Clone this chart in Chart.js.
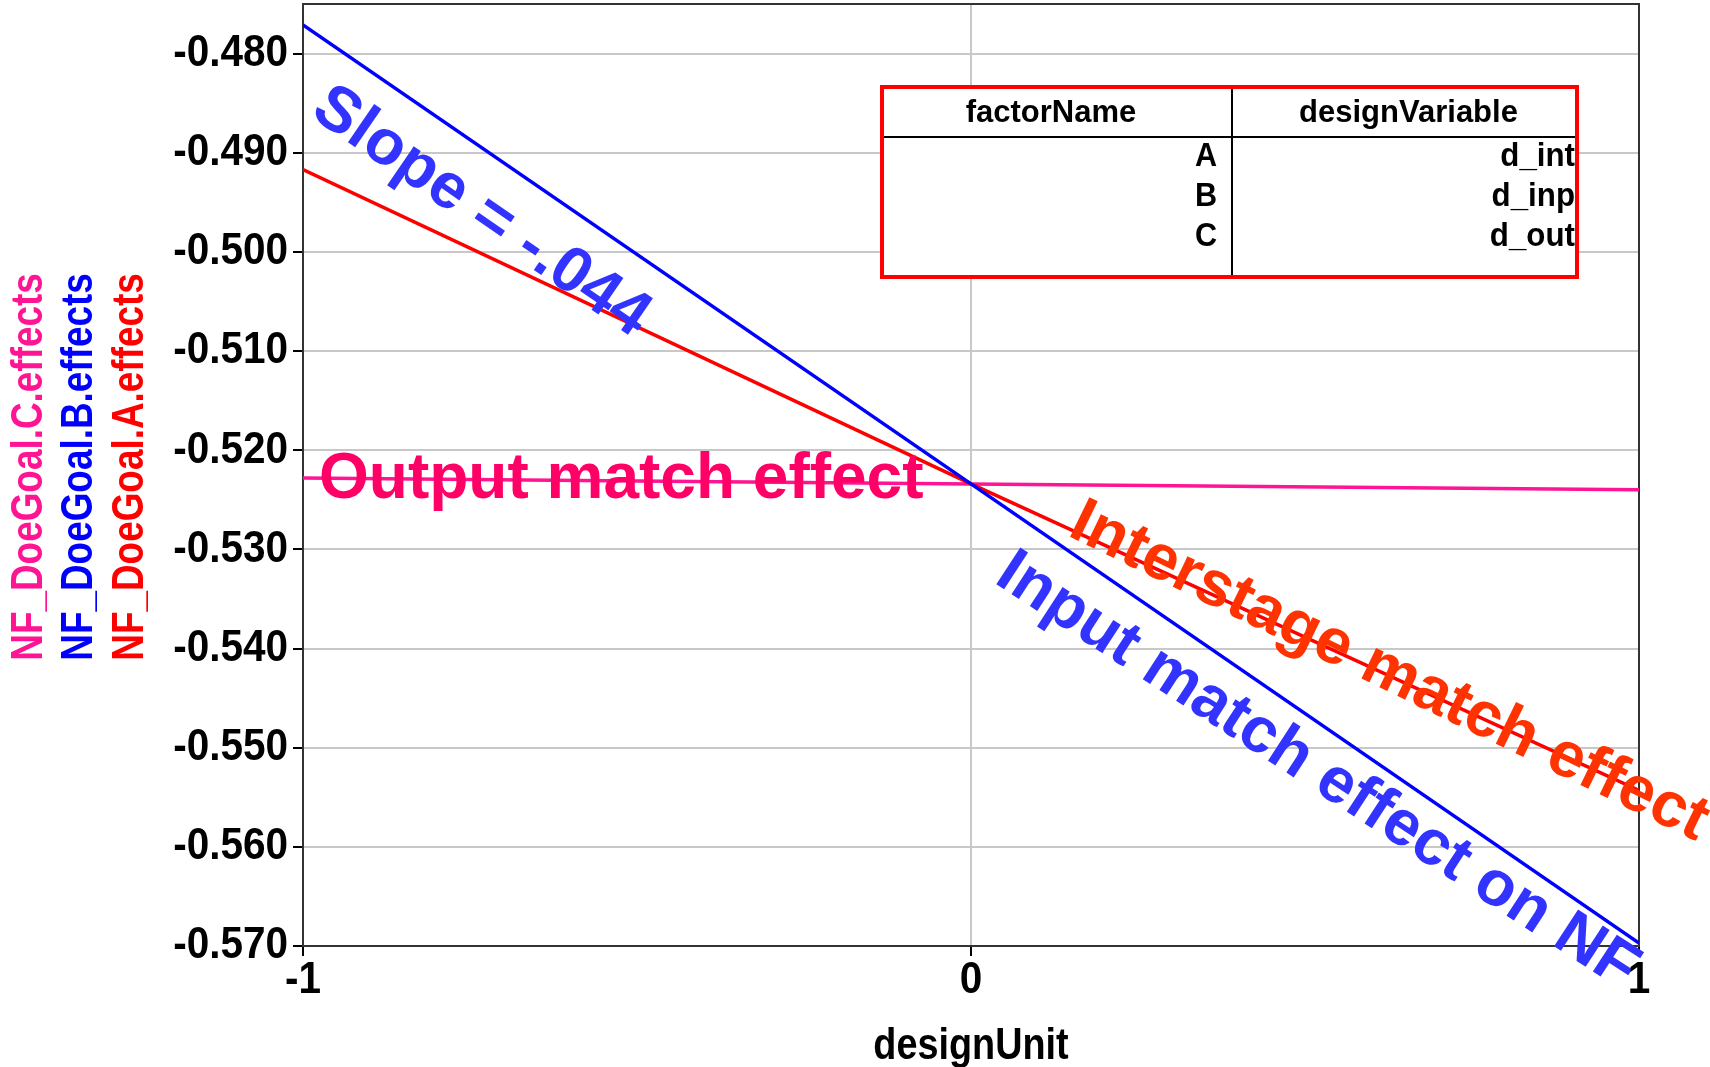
<!DOCTYPE html>
<html>
<head>
<meta charset="utf-8">
<script src="https://cdn.jsdelivr.net/npm/chart.js@4.4.1/dist/chart.umd.min.js"></script>
<style>
  html, body { margin: 0; padding: 0; background: #fff; }
  #wrap { width: 1710px; height: 1067px; }
</style>
</head>
<body>
<div id="wrap"><canvas id="effectsChart" width="1710" height="1067"></canvas></div>
<script>
// main effects of the three DOE factors on NF
let designUnit = [-1, 0, 1];
let effectA = [-0.4917, -0.5234, -0.5543];   // interstage match (red)
let effectB = [-0.4771, -0.5234, -0.5697];   // input match (blue)
let effectC = [-0.5228, -0.5234, -0.5240];   // output match (pink)

let yTicks = [-0.570, -0.560, -0.550, -0.540, -0.530, -0.520, -0.510, -0.500, -0.490, -0.480];
let xTicks = [-1, 0, 1];

let factorNames = ["A", "B", "C"];
let designVariables = ["d_int", "d_inp", "d_out"];

const SANS = "'Liberation Sans', Arial, sans-serif";
const AXIS_FONT = "bold 45px " + SANS;

function points(ys) {
    return designUnit.map((x, i) => ({ x: x, y: ys[i] }));
}

// no narrow face installed, so axis text is squeezed by hand
function squeezed(ctx, text, x, y, sx, align, rot) {
    ctx.save();
    ctx.translate(x, y);
    if (rot) ctx.rotate(rot);
    ctx.scale(sx, 1);
    ctx.textAlign = align;
    ctx.fillText(text, 0, 0);
    ctx.restore();
}

// text placed in data coordinates, turned along a series when asked
let notes = [
    { text: "Slope = -.044", x: -0.7335, y: -0.4960, color: "#3333ff", along: effectB, tilt: 0 },
    { text: "Output match effect", x: -0.976, y: -0.5248, color: "#ff0066", along: null, align: "left", baseline: "alphabetic" },
    { text: "Interstage match effect", x: 0.626, y: -0.5424, color: "#ff3300", along: effectA, tilt: 1 },
    { text: "Input match effect on NF", x: 0.518, y: -0.5524, color: "#3333ff", along: effectB, tilt: -1.5 }
];

let axisTitles = [
    { text: "NF_DoeGoal.C.effects", color: "#ff1493", x: 42 },
    { text: "NF_DoeGoal.B.effects", color: "#0000ff", x: 92 },
    { text: "NF_DoeGoal.A.effects", color: "#ff0000", x: 143 }
];

let framePlugin = {
    id: "frame",
    beforeDatasetsDraw(chart) {
        let a = chart.chartArea, ctx = chart.ctx;
        ctx.save();
        ctx.strokeStyle = "#333";
        ctx.lineWidth = 2;
        ctx.strokeRect(a.left, a.top, a.right - a.left, a.bottom - a.top);
        ctx.restore();
    }
};

let notesPlugin = {
    id: "notes",
    afterDatasetsDraw(chart) {
        let ctx = chart.ctx, xs = chart.scales.x, ys = chart.scales.y;
        ctx.save();
        notes.forEach(n => {
            let angle = 0;
            if (n.along) {
                let dx = xs.getPixelForValue(designUnit[2]) - xs.getPixelForValue(designUnit[0]);
                let dy = ys.getPixelForValue(n.along[2]) - ys.getPixelForValue(n.along[0]);
                angle = Math.atan2(dy, dx) + (n.tilt || 0) * Math.PI / 180;
            }
            ctx.save();
            ctx.translate(xs.getPixelForValue(n.x), ys.getPixelForValue(n.y));
            ctx.rotate(angle);
            ctx.font = "bold 64px " + SANS;
            ctx.fillStyle = n.color;
            ctx.textAlign = n.align || "center";
            ctx.textBaseline = n.baseline || "middle";
            ctx.fillText(n.text, 0, 0);
            ctx.restore();
        });
        ctx.restore();
    },
    afterDraw(chart) {
        let ctx = chart.ctx, a = chart.chartArea, xs = chart.scales.x, ys = chart.scales.y;

        // tick labels at the scales' own tick positions
        ctx.save();
        ctx.font = AXIS_FONT;
        ctx.fillStyle = "#000";
        ctx.textBaseline = "middle";
        ys.ticks.forEach(t => squeezed(ctx, t.value.toFixed(3), a.left - 15, ys.getPixelForValue(t.value), 0.9, "right"));
        xs.ticks.forEach(t => squeezed(ctx, String(t.value), xs.getPixelForValue(t.value), a.bottom + 35, 0.9, "center"));
        squeezed(ctx, "designUnit", (a.left + a.right) / 2, a.bottom + 101, 0.84, "center");
        ctx.restore();

        // stacked y titles, one per series
        ctx.save();
        ctx.font = AXIS_FONT;
        ctx.textBaseline = "alphabetic";
        axisTitles.forEach(t => {
            ctx.fillStyle = t.color;
            squeezed(ctx, t.text, t.x, (a.top + a.bottom) / 2 - 8, 0.82, "center", -Math.PI / 2);
        });
        ctx.restore();

        // factor table
        let L = 882, R = 1577, T = 87, B = 277, mid = 1232, head = 137;
        ctx.save();
        ctx.fillStyle = "#fff";
        ctx.fillRect(L, T, R - L, B - T);
        ctx.strokeStyle = "#000";
        ctx.lineWidth = 2;
        ctx.beginPath();
        ctx.moveTo(L, head); ctx.lineTo(R, head);
        ctx.moveTo(mid, T); ctx.lineTo(mid, B);
        ctx.stroke();
        ctx.fillStyle = "#000";
        ctx.textBaseline = "middle";
        ctx.font = "bold 31px " + SANS;
        squeezed(ctx, "factorName", (L + mid) / 2 - 6, 113, 1, "center");
        squeezed(ctx, "designVariable", (mid + R) / 2 + 4, 113, 1, "center");
        ctx.font = "bold 34px " + SANS;
        let rowY = [157, 197, 237];
        factorNames.forEach((f, i) => squeezed(ctx, f, 1217, rowY[i], 0.9, "right"));
        designVariables.forEach((d, i) => squeezed(ctx, d, 1575, rowY[i], 0.92, "right"));
        ctx.strokeStyle = "#ff0000";
        ctx.lineWidth = 4;
        ctx.strokeRect(L, T, R - L, B - T);
        ctx.restore();
    }
};

let data = {
    datasets: [
        { label: "NF_DoeGoal.B.effects", data: points(effectB), borderColor: "#0000ff", order: 0 },
        { label: "NF_DoeGoal.A.effects", data: points(effectA), borderColor: "#ff0000", order: 1 },
        { label: "NF_DoeGoal.C.effects", data: points(effectC), borderColor: "#ff1493", order: 2 }
    ]
};

let config = {
    type: "line",
    data: data,
    options: {
        responsive: false,
        animation: false,
        devicePixelRatio: 1,
        layout: { padding: { left: 0, right: 71, top: 4, bottom: 0 } },
        elements: {
            line: { borderWidth: 3.5, tension: 0 },
            point: { radius: 0 }
        },
        plugins: {
            legend: { display: false },
            tooltip: { enabled: false }
        },
        scales: {
            x: {
                type: "linear",
                min: -1,
                max: 1,
                afterBuildTicks: scale => { scale.ticks = xTicks.map(v => ({ value: v })); },
                afterFit: scale => {
                    scale.height = 121;
                    scale.paddingLeft = 0;
                    scale.paddingRight = 0;
                },
                ticks: { display: false },
                grid: { color: "#c8c8c8", lineWidth: 2, tickColor: "#000", tickLength: 10, tickWidth: 2 },
                border: { color: "#333", width: 2 }
            },
            y: {
                min: -0.570,
                max: -0.475,
                afterBuildTicks: scale => { scale.ticks = yTicks.map(v => ({ value: v })); },
                afterFit: scale => {
                    scale.width = 303;
                    scale.paddingTop = 0;
                    scale.paddingBottom = 0;
                },
                ticks: { display: false },
                grid: { color: "#c8c8c8", lineWidth: 2, tickColor: "#000", tickLength: 10, tickWidth: 2 },
                border: { color: "#333", width: 2 }
            }
        }
    },
    plugins: [framePlugin, notesPlugin]
};

let ctx = document.getElementById("effectsChart");
let effectsChart = new Chart(ctx, config);
</script>
</body>
</html>
